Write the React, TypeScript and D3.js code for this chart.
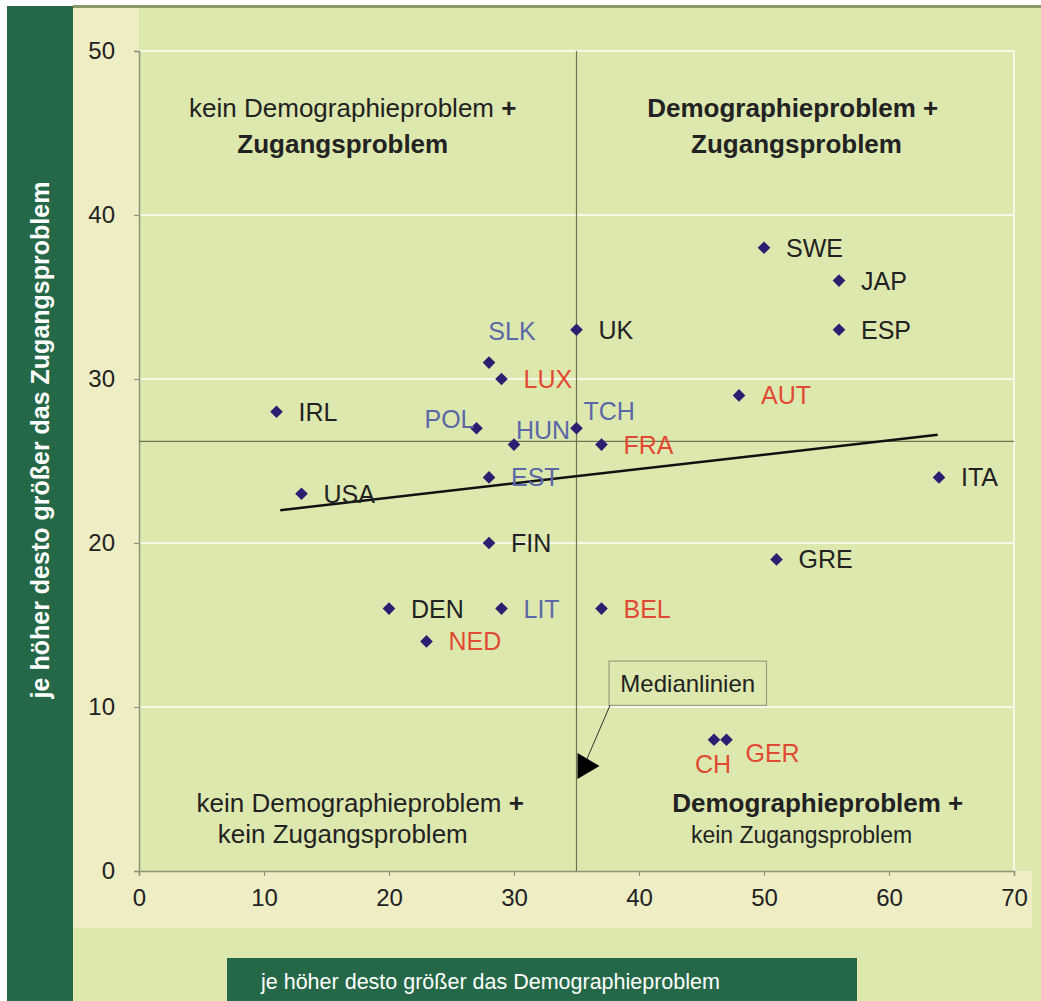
import React, { useRef, useEffect } from 'react';
import * as d3 from 'd3';

// country codes and their two scores (x = Demographie, y = Zugang)
const countries = ['IRL', 'USA', 'POL', 'SLK', 'LUX', 'HUN', 'EST', 'FIN', 'DEN', 'NED', 'LIT', 'BEL',
  'UK', 'TCH', 'FRA', 'AUT', 'SWE', 'JAP', 'ESP', 'ITA', 'GRE', 'CH', 'GER'];
const demography = [11, 13, 27, 28, 29, 30, 28, 28, 20, 23, 29, 37, 35, 35, 37, 48, 50, 56, 56, 64, 51, 46, 47];
const access = [28, 23, 27, 31, 30, 26, 24, 20, 16, 14, 16, 16, 33, 27, 26, 29, 38, 36, 33, 24, 19, 8, 8];
const labelGroup = ['black', 'black', 'blue', 'blue', 'red', 'blue', 'blue', 'black', 'black', 'red', 'blue', 'red',
  'black', 'blue', 'red', 'red', 'black', 'black', 'black', 'black', 'black', 'red', 'red'];

const medianX = 35;
const medianY = 26.2;
const trendX = [11.3, 63.9];
const trendY = [22.0, 26.6];

const xTicks = [0, 10, 20, 30, 40, 50, 60, 70];
const yTicks = [0, 10, 20, 30, 40, 50];

const yTitle = 'je höher desto größer das Zugangsproblem';
const xTitle = 'je höher desto größer das Demographieproblem';
const calloutText = 'Medianlinien';

const colors = {
  dark: '#256848',
  outer: '#dde8ae',
  pale: '#efedc4',
  marker: '#2c1f72',
  black: '#222222',
  blue: '#5a68a8',
  red: '#e04a33',
  axis: '#8f9478',
  median: '#6e7352'
};

// label offsets relative to the marker (px); default is right of the point
const labelPlace = {
  POL: { dx: -2, dy: -9, anchor: 'end' },
  SLK: { dx: 23, dy: -32, anchor: 'middle' },
  HUN: { dx: 2, dy: -15, anchor: 'start' },
  TCH: { dx: 7, dy: -17, anchor: 'start' },
  CH: { dx: -1, dy: 24, anchor: 'middle' },
  GER: { dx: 19, dy: 13, anchor: 'start' }
};

const font = '"Liberation Sans", Arial, sans-serif';

const App: React.FC = () => {
  const ref = useRef(null);

  useEffect(() => {
    document.body.style.margin = '0';
    const W = 1041;
    const H = 1001;
    const x = d3.scaleLinear().domain([0, 70]).range([139, 1014]);
    const y = d3.scaleLinear().domain([0, 50]).range([871, 51]);

    const svg = d3.select(ref.current).attr('width', W).attr('height', H);
    svg.selectAll('*').remove();

    // background panels
    svg.append('rect').attr('width', W).attr('height', H).attr('fill', '#ffffff');
    svg.append('rect').attr('x', 73).attr('y', 6).attr('width', W - 73).attr('height', H - 6).attr('fill', colors.outer);
    svg.append('rect').attr('x', 73).attr('y', 5).attr('width', W - 73).attr('height', 3).attr('fill', '#8d9868');
    svg.append('rect').attr('x', 73).attr('y', 8).attr('width', x(0) - 73).attr('height', 928 - 8).attr('fill', colors.pale);
    svg.append('rect').attr('x', 73).attr('y', y(0)).attr('width', 1032 - 73).attr('height', 928 - y(0)).attr('fill', colors.pale);
    svg.append('rect').attr('x', 7).attr('y', 6).attr('width', 66).attr('height', H - 6).attr('fill', colors.dark);
    svg.append('rect').attr('x', 227).attr('y', 958).attr('width', 630).attr('height', H - 958).attr('fill', colors.dark);

    // plot area
    svg.append('rect')
      .attr('x', x(0)).attr('y', y(50))
      .attr('width', x(70) - x(0)).attr('height', y(0) - y(50))
      .attr('fill', colors.outer);

    // white gridlines
    svg.append('g').selectAll('line').data(yTicks.filter(d => d > 0)).join('line')
      .attr('x1', x(0)).attr('x2', x(70))
      .attr('y1', d => y(d)).attr('y2', d => y(d))
      .attr('stroke', '#f7f8e6').attr('stroke-width', 2);
    svg.append('line')
      .attr('x1', x(70)).attr('x2', x(70)).attr('y1', y(50)).attr('y2', y(0))
      .attr('stroke', '#f7f8e6').attr('stroke-width', 2);

    // axes
    const yAxis = svg.append('g').attr('transform', `translate(${x(0)},0)`)
      .call(d3.axisLeft(y).tickValues(yTicks).tickSize(5).tickPadding(19));
    const xAxis = svg.append('g').attr('transform', `translate(0,${y(0)})`)
      .call(d3.axisBottom(x).tickValues(xTicks).tickSize(5).tickPadding(13));
    [yAxis, xAxis].forEach(g => {
      g.select('.domain').attr('stroke', colors.axis).attr('stroke-width', 1.5);
      g.selectAll('.tick line').attr('stroke', colors.axis).attr('stroke-width', 1.2);
      g.selectAll('.tick text')
        .attr('font-family', font).attr('font-size', 24).attr('fill', colors.black);
    });

    // median lines
    svg.append('line')
      .attr('x1', x(medianX)).attr('x2', x(medianX)).attr('y1', y(50)).attr('y2', y(0))
      .attr('stroke', colors.median).attr('stroke-width', 1.2);
    svg.append('line')
      .attr('x1', x(0)).attr('x2', x(70)).attr('y1', y(medianY)).attr('y2', y(medianY))
      .attr('stroke', colors.median).attr('stroke-width', 1.2);

    // trend line
    svg.append('path')
      .datum(trendX.map((v, i) => [v, trendY[i]]))
      .attr('fill', 'none')
      .attr('stroke', '#111')
      .attr('stroke-width', 2.5)
      .attr('d', d3.line().x(d => x(d[0])).y(d => y(d[1])));

    // quadrant notes
    const note = (cx, by, parts, size = 26) => {
      const t = svg.append('text')
        .attr('x', x(cx)).attr('y', y(by))
        .attr('text-anchor', 'middle')
        .attr('font-family', font).attr('font-size', size).attr('fill', colors.black);
      parts.forEach(p => t.append('tspan').attr('font-weight', p[1] ? 'bold' : 'normal').text(p[0]));
    };
    note(17.1, 46.0, [['kein Demographieproblem ', false], ['+', true]]);
    note(16.3, 43.8, [['Zugangsproblem', true]]);
    note(52.3, 46.0, [['Demographieproblem +', true]]);
    note(52.6, 43.8, [['Zugangsproblem', true]]);
    note(17.7, 3.6, [['kein Demographieproblem ', false], ['+', true]]);
    note(16.3, 1.7, [['kein Zugangsproblem', false]]);
    note(54.3, 3.6, [['Demographieproblem +', true]]);
    note(53.0, 1.7, [['kein Zugangsproblem', false]], 23);

    // callout box with arrow to the median line
    const bx0 = x(37.6), bx1 = x(50.2), by0 = y(12.8), by1 = y(10.1);
    svg.append('rect')
      .attr('x', bx0).attr('y', by0).attr('width', bx1 - bx0).attr('height', by1 - by0)
      .attr('fill', colors.outer).attr('stroke', '#9a9d80').attr('stroke-width', 1.2);
    svg.append('text')
      .attr('x', (bx0 + bx1) / 2).attr('y', (by0 + by1) / 2)
      .attr('dy', '0.35em').attr('text-anchor', 'middle')
      .attr('font-family', font).attr('font-size', 24).attr('fill', colors.black)
      .text(calloutText);
    const ax = x(medianX), ay = y(6.4);
    svg.append('line')
      .attr('x1', bx0 + 1).attr('y1', by1)
      .attr('x2', ax + 10).attr('y2', ay - 6)
      .attr('stroke', '#333').attr('stroke-width', 1);
    svg.append('path')
      .attr('d', `M${ax + 1},${ay - 13} L${ax + 1},${ay + 13} L${ax + 23},${ay} Z`)
      .attr('fill', '#000');

    // markers and labels
    const pts = countries.map((c, i) => ({ c, x: demography[i], y: access[i], g: labelGroup[i] }));
    svg.append('g').selectAll('path').data(pts).join('path')
      .attr('d', d3.symbol().type(d3.symbolSquare).size(80))
      .attr('transform', d => `translate(${x(d.x)},${y(d.y)}) rotate(45)`)
      .attr('fill', colors.marker);
    svg.append('g').selectAll('text').data(pts).join('text')
      .attr('x', d => x(d.x) + (labelPlace[d.c]?.dx ?? 22))
      .attr('y', d => y(d.y) + (labelPlace[d.c]?.dy ?? 0))
      .attr('dy', '0.36em')
      .attr('text-anchor', d => labelPlace[d.c]?.anchor ?? 'start')
      .attr('font-family', font).attr('font-size', 25)
      .attr('fill', d => colors[d.g])
      .text(d => d.c);

    // axis titles
    svg.append('text')
      .attr('transform', `translate(40,440) rotate(-90)`)
      .attr('dy', '0.35em').attr('text-anchor', 'middle')
      .attr('font-family', font).attr('font-size', 25).attr('font-weight', 'bold')
      .attr('fill', '#ffffff')
      .text(yTitle);
    svg.append('text')
      .attr('x', 261).attr('y', 981).attr('dy', '0.35em')
      .attr('font-family', font).attr('font-size', 21.5)
      .attr('fill', '#ffffff')
      .text(xTitle);
  }, []);

  return <svg ref={ref} style={{ display: 'block' }}></svg>;
};

export default App;
